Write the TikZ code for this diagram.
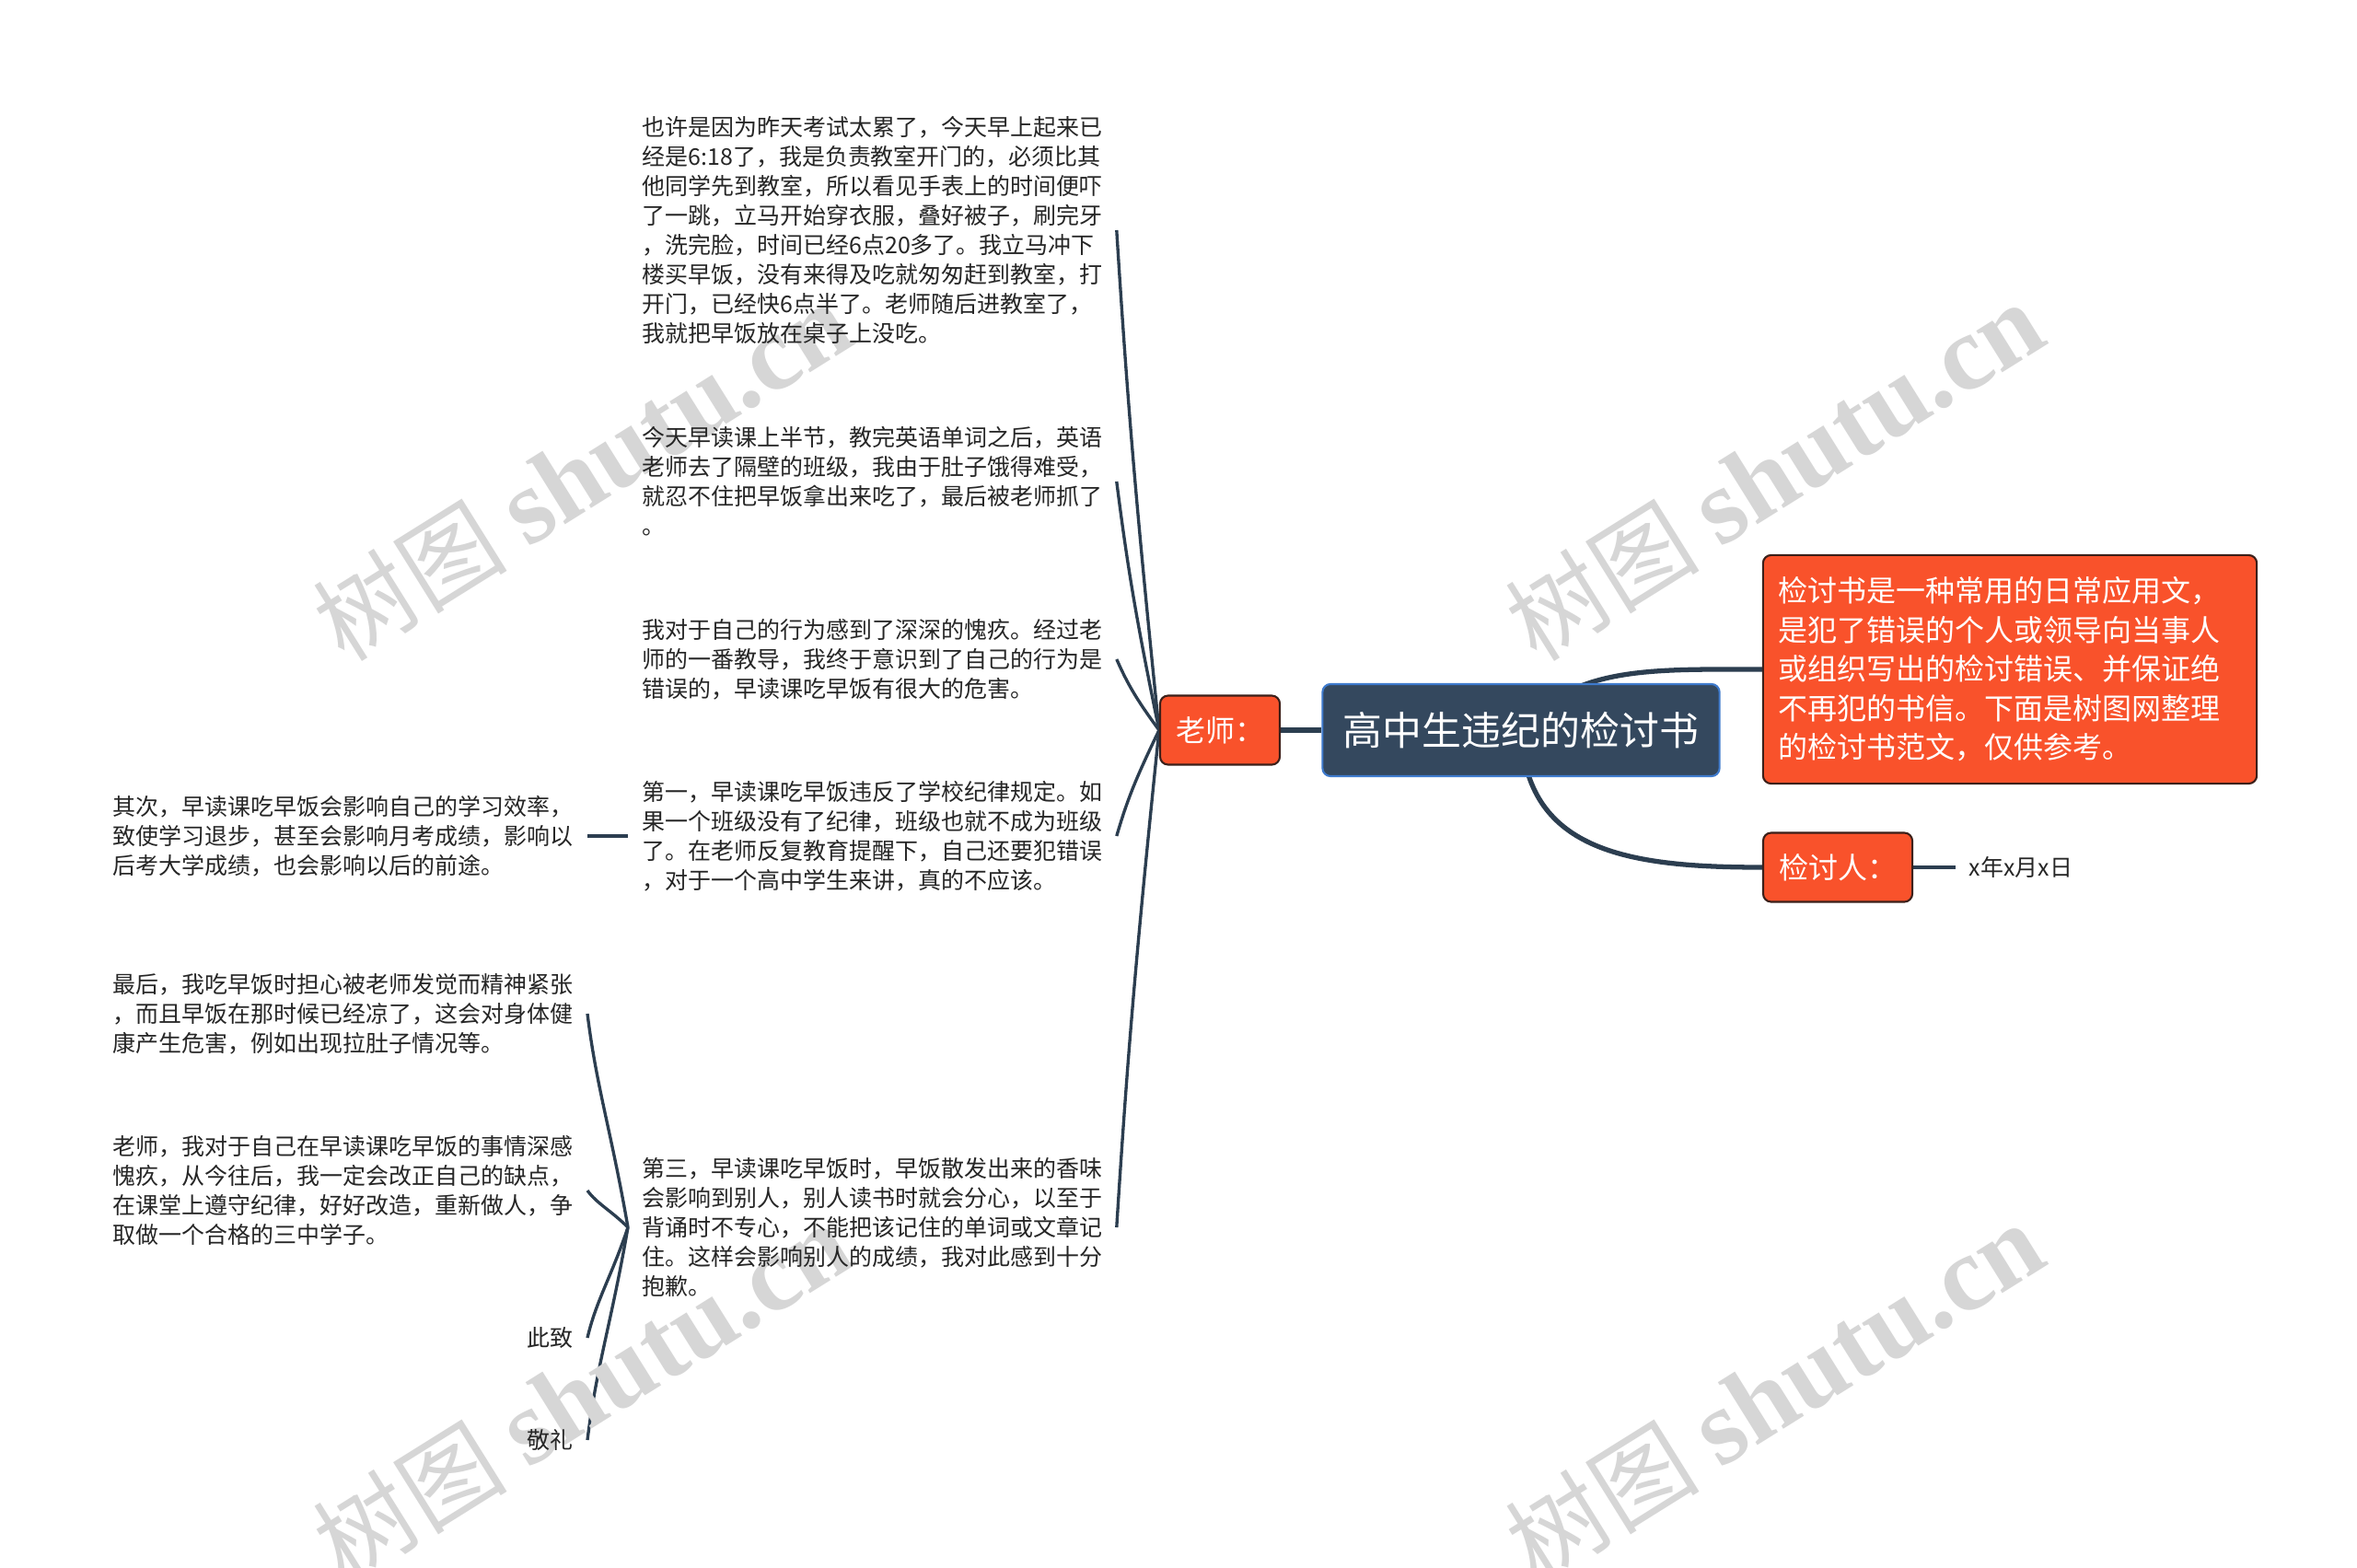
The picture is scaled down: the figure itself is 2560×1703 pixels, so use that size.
\documentclass[tikz,border=0pt]{standalone}
\usepackage{fontspec}
\setmainfont{Noto Sans CJK SC}
\newfontfamily\wmserif{Liberation Serif}
\usetikzlibrary{positioning}
\definecolor{rootfill}{RGB}{52,72,94}
\definecolor{rootline}{RGB}{62,122,204}
\definecolor{tagfill}{RGB}{249,82,43}
\definecolor{tagline}{RGB}{60,32,26}
\definecolor{branch}{RGB}{44,62,80}
\definecolor{wmgray}{RGB}{214,214,214}
\pgfdeclarelayer{background}
\pgfsetlayers{background,main}
\tikzset{
        % Central topic
        node_root/.style={rectangle, rounded corners=2.5pt, fill=rootfill, draw=rootline, line width=0.6pt, text=white, minimum width=4.31cm, minimum height=1.0cm, inner sep=0pt, font=\fontsize{12.2pt}{14pt}\selectfont},
        % Orange topics
        node_tag/.style={rectangle, rounded corners=2.5pt, fill=tagfill, draw=tagline, line width=0.6pt, text=white, inner xsep=0.17cm, inner ysep=0pt, minimum height=0.75cm, font=\fontsize{9.1pt}{12.1pt}\selectfont},
        % Plain text topics
        node_text/.style={align=left, inner xsep=0.15cm, inner ysep=0pt, text=black!85, font=\fontsize{7.1pt}{9.1pt}\selectfont},
        % Connectors
        branch_line/.style={draw=branch, line width=0.95pt},
        branch_main/.style={draw=branch, line width=1.5pt},
        % Watermark
        wm/.style={text=wmgray, rotate=32, inner sep=0pt, font=\fontsize{30pt}{32pt}\selectfont}
}
\begin{document}
\begin{tikzpicture}[x=0.01cm, y=-0.01cm]
    \useasboundingbox (0,0) rectangle (2560,1703);
    \begin{pgfonlayer}{background}
    \fill[white] (0,0) rectangle (2560,1703);
    \end{pgfonlayer}

    % watermark
    \node[wm] (wm1) at (632,512) {树图 {\wmserif\bfseries\fontsize{33pt}{35pt}\selectfont shutu.cn}};
    \node[wm] (wm2) at (1927,512) {树图 {\wmserif\bfseries\fontsize{33pt}{35pt}\selectfont shutu.cn}};
    \node[wm] (wm3) at (632,1512) {树图 {\wmserif\bfseries\fontsize{33pt}{35pt}\selectfont shutu.cn}};
    \node[wm] (wm4) at (1927,1512) {树图 {\wmserif\bfseries\fontsize{33pt}{35pt}\selectfont shutu.cn}};

    % topics
    \node[node_root] (root) at (1652,793) {高中生违纪的检讨书};
    \node[node_tag, minimum width=1.30cm] (teacher) at (1325,793) {老师：};
    \node[node_tag, align=left, text width=5.02cm, minimum height=2.48cm] (intro) at (2183,727) {检讨书是一种常用的日常应用文，\\是犯了错误的个人或领导向当事人\\或组织写出的检讨错误、并保证绝\\不再犯的书信。下面是树图网整理\\的检讨书范文，仅供参考。};
    \node[node_tag, minimum width=1.62cm] (signer) at (1996,942) {检讨人：};
    \node[node_text, right=0.46cm of signer, inner xsep=0.14cm] (date) {x年x月x日};

    \node[node_text, anchor=west] (t1) at (682,250) {也许是因为昨天考试太累了，今天早上起来已\\经是6:18了，我是负责教室开门的，必须比其\\他同学先到教室，所以看见手表上的时间便吓\\了一跳，立马开始穿衣服，叠好被子，刷完牙\\，洗完脸，时间已经6点20多了。我立马冲下\\楼买早饭，没有来得及吃就匆匆赶到教室，打\\开门，已经快6点半了。老师随后进教室了，\\我就把早饭放在桌子上没吃。};
    \node[node_text, anchor=west] (t2) at (682,523) {今天早读课上半节，教完英语单词之后，英语\\老师去了隔壁的班级，我由于肚子饿得难受，\\就忍不住把早饭拿出来吃了，最后被老师抓了\\。};
    \node[node_text, anchor=west] (t3) at (682,716) {我对于自己的行为感到了深深的愧疚。经过老\\师的一番教导，我终于意识到了自己的行为是\\错误的，早读课吃早饭有很大的危害。};
    \node[node_text, anchor=west] (t4) at (682,908) {第一，早读课吃早饭违反了学校纪律规定。如\\果一个班级没有了纪律，班级也就不成为班级\\了。在老师反复教育提醒下，自己还要犯错误\\，对于一个高中学生来讲，真的不应该。};
    \node[node_text, anchor=west] (t5) at (682,1333) {第三，早读课吃早饭时，早饭散发出来的香味\\会影响到别人，别人读书时就会分心，以至于\\背诵时不专心，不能把该记住的单词或文章记\\住。这样会影响别人的成绩，我对此感到十分\\抱歉。};

    \node[node_text, anchor=east] (s1) at (638,908) {其次，早读课吃早饭会影响自己的学习效率，\\致使学习退步，甚至会影响月考成绩，影响以\\后考大学成绩，也会影响以后的前途。};
    \node[node_text, anchor=east] (f1) at (638,1101) {最后，我吃早饭时担心被老师发觉而精神紧张\\，而且早饭在那时候已经凉了，这会对身体健\\康产生危害，例如出现拉肚子情况等。};
    \node[node_text, anchor=east] (f2) at (638,1293) {老师，我对于自己在早读课吃早饭的事情深感\\愧疚，从今往后，我一定会改正自己的缺点，\\在课堂上遵守纪律，好好改造，重新做人，争\\取做一个合格的三中学子。};
    \node[node_text, anchor=east, align=right] (f3) at (638,1453) {此致};
    \node[node_text, anchor=east, align=right] (f4) at (638,1564) {敬礼};

    % connectors
    \begin{pgfonlayer}{background}
    \draw[branch_main] (root.center) .. controls +(55,-70) and +(-120,0) .. (intro.west);
    \draw[branch_main] (root.center) .. controls +(5,130) and +(-150,0) .. (signer.west);
    \draw[branch_main] (teacher.east) -- (root.west);
    \draw[branch_line] (signer.east) -- (date.west);

    \draw[branch_line] (teacher.west) .. controls +(-25,-244) and +(12,190) .. (t1.east);
    \draw[branch_line] (teacher.west) .. controls +(-25,-121) and +(12,94) .. (t2.east);
    \draw[branch_line] (teacher.west) .. controls +(-25,-34) and +(12,27) .. (t3.east);
    \draw[branch_line] (teacher.west) .. controls +(-25,52) and +(12,-41) .. (t4.east);
    \draw[branch_line] (teacher.west) .. controls +(-25,243) and +(12,-189) .. (t5.east);

    \draw[branch_line] (t4.west) -- (s1.east);

    \draw[branch_line] (t5.west) .. controls +(-18,-104) and +(10,81) .. (f1.east);
    \draw[branch_line] (t5.west) .. controls +(-18,-18) and +(10,14) .. (f2.east);
    \draw[branch_line] (t5.west) .. controls +(-18,54) and +(10,-42) .. (f3.east);
    \draw[branch_line] (t5.west) .. controls +(-18,104) and +(10,-81) .. (f4.east);
    \end{pgfonlayer}
\end{tikzpicture}
\end{document}
